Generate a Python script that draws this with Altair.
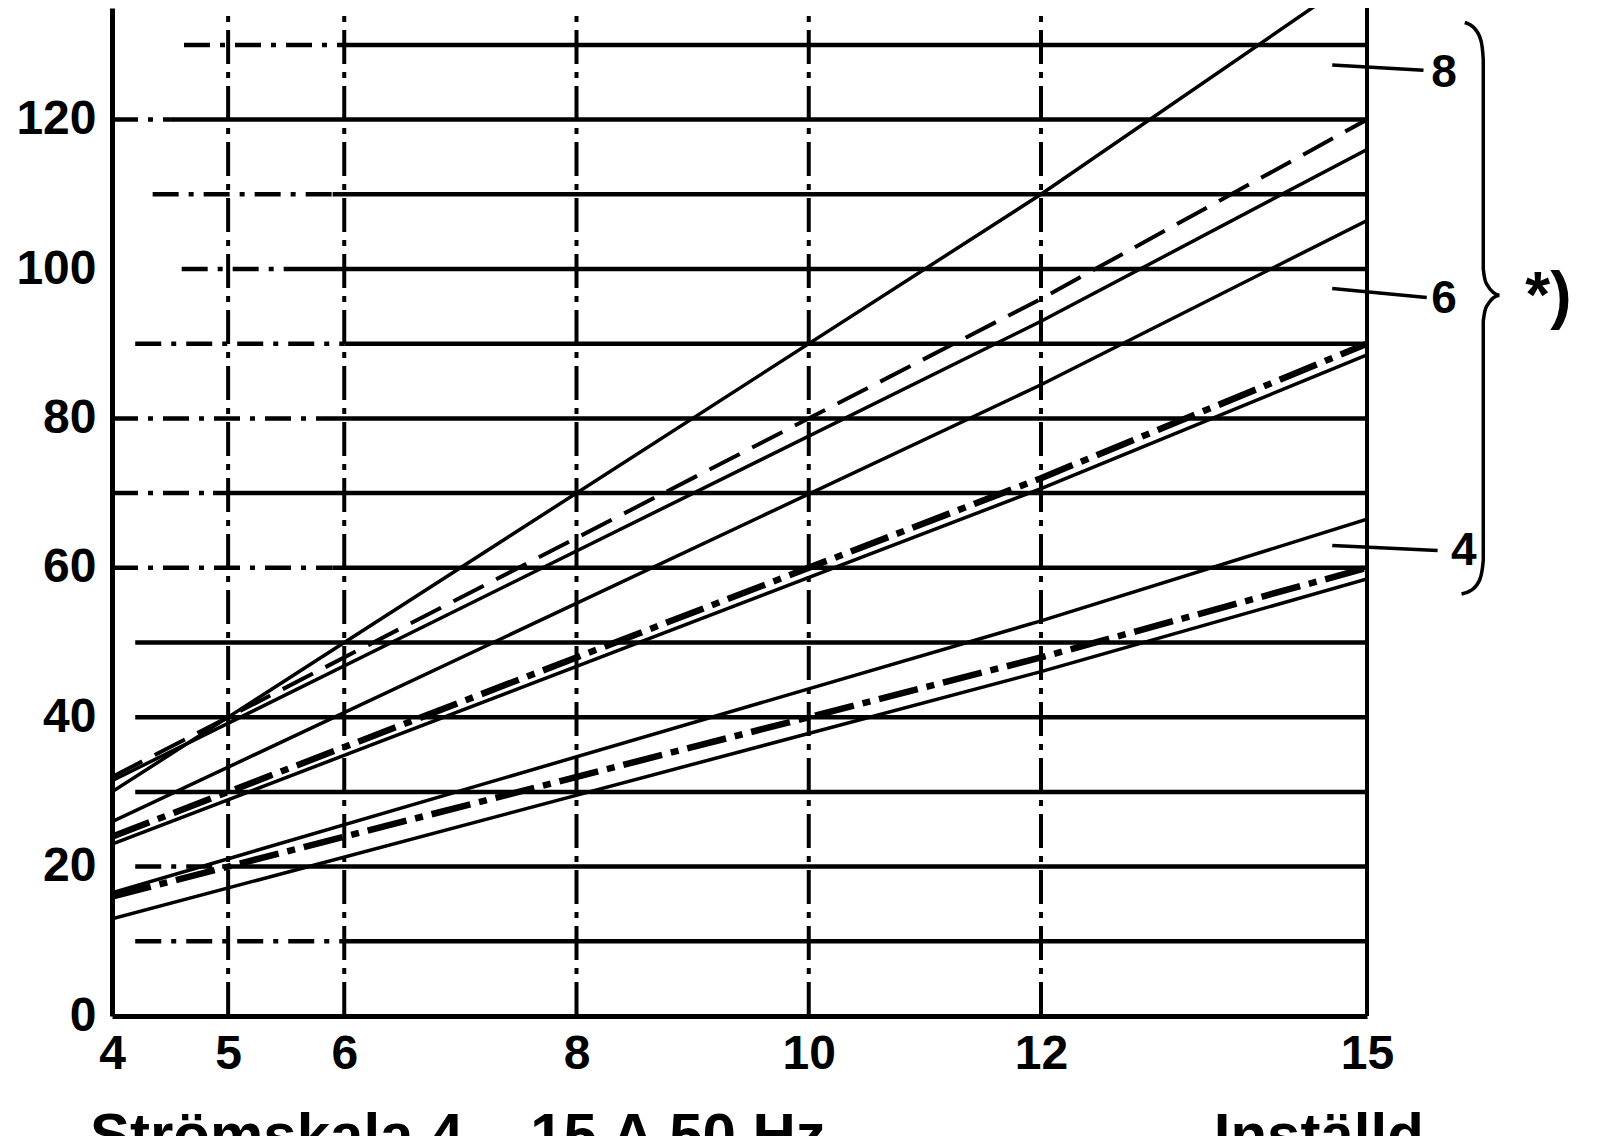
import altair as alt
import pandas as pd

# ---------------- data ----------------
x_ticks = [4, 5, 6, 8, 10, 12, 15]
y_ticks = [0, 20, 40, 60, 80, 100, 120]
Y_TOP = 134.94

# characteristic lines: value read at x=4, x=12 and x=15
line_x = [4, 12, 15]
solid_names = ["A", "C", "D", "E2", "F", "G2"]
solid_y4 = [30.0, 31.5, 26.0, 23.0, 16.5, 13.0]
solid_y12 = [110.0, 93.0, 84.5, 70.6, 52.9, 46.1]
solid_y15 = [140.0, 116.0, 106.5, 88.5, 66.5, 58.5]

dashed_names = ["B"]
dashed_y4 = [32.0]
dashed_y12 = [96.0]
dashed_y15 = [120.0]

dashdot_names = ["E", "G"]
dashdot_y4 = [24.0, 16.0]
dashdot_y12 = [72.0, 48.0]
dashdot_y15 = [90.0, 60.0]

# horizontal grid lines: dash-dot part, then solid part to x=15
grid_levels = [10, 20, 30, 40, 50, 60, 70, 80, 90, 100, 110, 120, 130]
grid_dash_from = [4.2, 4.2, 4.2, 4.2, 4.2, 4.0, 4.0, 4.0, 4.2, 4.6, 4.35, 4.0, 4.62]
grid_solid_from = [6.0, 5.0, 4.2, 4.2, 4.2, 5.9, 4.87, 5.8, 6.0, 5.55, 5.9, 4.5, 6.0]

# vertical grid lines
vgrid_x = [5, 6, 8, 10, 12]

# pointer annotations on the right
pointer_labels = ["8", "6", "4"]
pointer_x1 = [14.68, 14.68, 14.68]
pointer_x2 = [15.52, 15.55, 15.65]
pointer_y1 = [127.3, 97.4, 63.0]
pointer_y2 = [126.6, 96.2, 62.3]
label_x = [15.71, 15.71, 15.89]
label_y = [126.2, 96.0, 62.2]

# brace grouping the three labels
brace_x = [15.90, 15.99, 16.05, 16.07, 16.07, 16.10, 16.22, 16.10, 16.07, 16.07, 16.04, 15.96, 15.87]
brace_y = [133.0, 132.2, 130.5, 128.0, 100.0, 98.0, 96.5, 95.0, 93.0, 61.0, 58.5, 57.0, 56.5]
note_text = ["*)"]
note_x = [16.67]
note_y = [96.1]

bottom_texts = ["Strömskala 4 – 15 A  50 Hz", "Inställd"]
bottom_x = [3.81, 13.59]
bottom_y = [-12.3, -12.3]

# ---------------- frames ----------------
def line_frame(names, *cols):
    rows = []
    for i, n in enumerate(names):
        for xv, col in zip(line_x, cols):
            rows.append({"name": n, "x": xv, "y": col[i]})
    return pd.DataFrame(rows)

solid_df = line_frame(solid_names, solid_y4, solid_y12, solid_y15)
dashed_df = line_frame(dashed_names, dashed_y4, dashed_y12, dashed_y15)
dashdot_df = line_frame(dashdot_names, dashdot_y4, dashdot_y12, dashdot_y15)

hdash_df = pd.DataFrame({"y": grid_levels, "x1": grid_dash_from, "x2": grid_solid_from})
hsolid_df = pd.DataFrame({"y": grid_levels, "x1": grid_solid_from, "x2": [15] * len(grid_levels)})
vgrid_df = pd.DataFrame({"x": vgrid_x, "y1": [0] * len(vgrid_x), "y2": [Y_TOP] * len(vgrid_x)})
border_df = pd.DataFrame({"x": [15], "y1": [0], "y2": [Y_TOP]})
pointer_df = pd.DataFrame({"x1": pointer_x1, "x2": pointer_x2, "y1": pointer_y1, "y2": pointer_y2})
plabel_df = pd.DataFrame({"t": pointer_labels, "x": label_x, "y": label_y})
brace_df = pd.DataFrame({"i": list(range(len(brace_x))), "x": brace_x, "y": brace_y})
note_df = pd.DataFrame({"t": note_text, "x": note_x, "y": note_y})
bottom_df = pd.DataFrame({"t": bottom_texts, "x": bottom_x, "y": bottom_y})

# ---------------- scales & axes ----------------
FONT = "Liberation Sans"
xscale = alt.Scale(domain=[4, 12, 15], range=[0, 929, 1255], nice=False, zero=False)
yscale = alt.Scale(domain=[0, Y_TOP], nice=False, zero=False)

x_axis = alt.Axis(values=x_ticks, title=None, ticks=False, grid=False,
                  labelFontSize=48, labelFont=FONT, labelFontWeight="bold",
                  labelColor="black", labelPadding=14, labelFlush=False,
                  labelOverlap=False, domainColor="black", domainWidth=5)
y_axis = alt.Axis(values=y_ticks, title=None, ticks=False, grid=False,
                  labelFontSize=48, labelFont=FONT, labelFontWeight="bold",
                  labelColor="black", labelPadding=16, labelFlush=False,
                  labelOverlap=False, domainColor="black", domainWidth=5)


def X(f):
    return alt.X(f, type="quantitative", scale=xscale, axis=x_axis)


def Y(f):
    return alt.Y(f, type="quantitative", scale=yscale, axis=y_axis)


# ---------------- layers ----------------
vgrid = alt.Chart(vgrid_df).mark_rule(color="black", strokeWidth=4, strokeDash=[34, 8, 6, 8]).encode(
    x=X("x"), y=Y("y1"), y2="y2")

hdash = alt.Chart(hdash_df).mark_rule(color="black", strokeWidth=4.5, strokeDash=[26, 10, 5, 10]).encode(
    x=X("x1"), x2="x2", y=Y("y"))

hsolid = alt.Chart(hsolid_df).mark_rule(color="black", strokeWidth=4.5).encode(
    x=X("x1"), x2="x2", y=Y("y"))

border = alt.Chart(border_df).mark_rule(color="black", strokeWidth=4).encode(
    x=X("x"), y=Y("y1"), y2="y2")

solid_lines = alt.Chart(solid_df).mark_line(color="black", strokeWidth=3.5, clip=True).encode(
    x=X("x"), y=Y("y"), detail="name:N")

dashed_lines = alt.Chart(dashed_df).mark_line(color="black", strokeWidth=4, strokeDash=[34, 14], clip=True).encode(
    x=X("x"), y=Y("y"), detail="name:N")

dashdot_lines = alt.Chart(dashdot_df).mark_line(color="black", strokeWidth=6.5, strokeDash=[40, 9, 8, 9], clip=True).encode(
    x=X("x"), y=Y("y"), detail="name:N")

pointers = alt.Chart(pointer_df).mark_rule(color="black", strokeWidth=3.5).encode(
    x=X("x1"), x2="x2", y=Y("y1"), y2="y2")

plabels = alt.Chart(plabel_df).mark_text(font=FONT, fontSize=46, fontWeight="bold", color="black",
                                         align="center", baseline="middle").encode(
    x=X("x"), y=Y("y"), text="t:N")

brace = alt.Chart(brace_df).mark_line(color="black", strokeWidth=3.5, interpolate="monotone").encode(
    x=X("x"), y=Y("y"), order=alt.Order("i:Q"))

note = alt.Chart(note_df).mark_text(font=FONT, fontSize=64, fontWeight="bold", color="black",
                                    align="center", baseline="middle").encode(
    x=X("x"), y=Y("y"), text="t:N")

bottom = alt.Chart(bottom_df).mark_text(font=FONT, fontSize=60, fontWeight="bold", color="black",
                                        align="left", baseline="top").encode(
    x=X("x"), y=Y("y"), text="t:N")

chart = alt.layer(
    vgrid, hdash, hsolid, border, solid_lines, dashed_lines, dashdot_lines,
    pointers, plabels, brace, note, bottom
).properties(
    width=1255, height=1008,
    padding={"left": 104, "top": 0, "right": 221, "bottom": 120},
    autosize=alt.AutoSizeParams(type="none"),
    background="white",
).configure_view(strokeWidth=0)

chart.save("out.html", embed_options={"renderer": "svg", "actions": False})
